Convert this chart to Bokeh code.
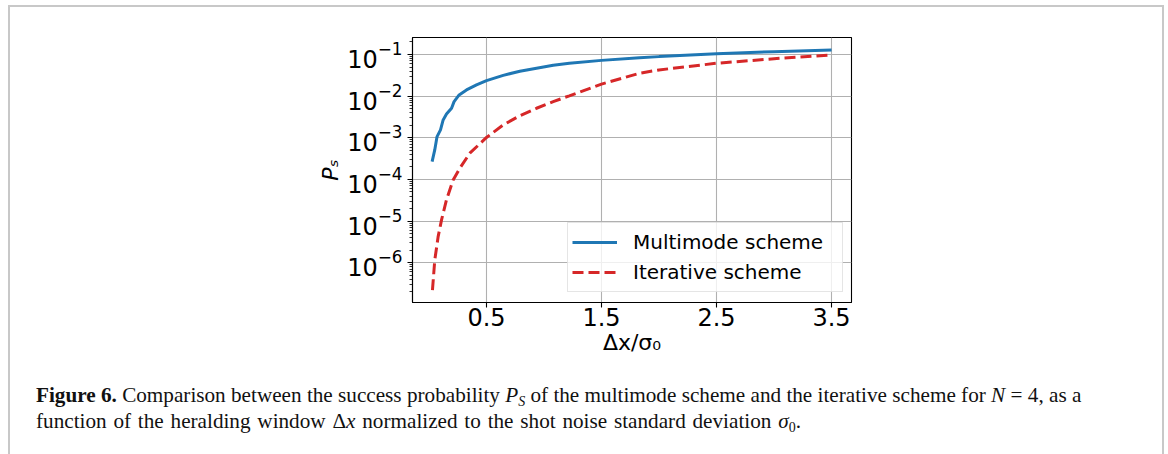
from bokeh.plotting import figure
from bokeh.models import Range1d, FixedTicker, Legend, LegendItem, Div
from bokeh.layouts import column
from bokeh.embed import file_html
from bokeh.resources import INLINE

# ---- data ----
dx_multi = [0.027, 0.05, 0.07, 0.10, 0.123, 0.152, 0.196, 0.218, 0.262, 0.326, 0.413,
            0.5, 0.645, 0.79, 0.935, 1.08, 1.22, 1.5, 1.83, 2.0, 2.5, 3.0, 3.5]
ps_multi = [2.69e-4, 5.13e-4, 1.07e-3, 1.55e-3, 2.69e-3, 3.72e-3, 5.13e-3, 7.41e-3,
            1.07e-2, 1.41e-2, 1.86e-2, 2.37e-2, 3.16e-2, 3.98e-2, 4.68e-2, 5.50e-2,
            6.17e-2, 7.24e-2, 8.32e-2, 8.91e-2, 0.105, 0.117, 0.129]

dx_iter = [0.03, 0.05, 0.079, 0.109, 0.152, 0.21, 0.268, 0.355, 0.5, 0.645, 0.79, 0.935,
           1.08, 1.22, 1.5, 1.83, 2.0, 2.5, 3.0, 3.5]
ps_iter = [2.19e-7, 1.15e-6, 4.17e-6, 1.07e-5, 3.24e-5, 9.77e-5, 1.86e-4, 4.27e-4,
           1.02e-3, 2.04e-3, 3.39e-3, 5.13e-3, 7.41e-3, 1.02e-2, 1.95e-2, 3.55e-2,
           4.27e-2, 6.17e-2, 7.94e-2, 9.77e-2]

x_ticks = [0.5, 1.5, 2.5, 3.5]
y_ticks = [1e-6, 1e-5, 1e-4, 1e-3, 1e-2, 1e-1]
legend_labels = ["Multimode scheme", "Iterative scheme"]
x_label = "Δx/σ₀"
y_label = "Pₛ"

FONT = "DejaVu Sans"

y_minor = [k * 10.0 ** e for e in range(-7, 0) for k in range(2, 10)]

FIG_H = 372
p = figure(width=1168, height=FIG_H, y_axis_type="log",
           x_range=Range1d(-0.1435, 3.6735), y_range=Range1d(1.11e-7, 0.2565),
           output_backend="svg", toolbar_location=None,
           min_border_left=412, min_border_right=317, min_border_top=37,
           min_border_bottom=FIG_H - 302)
p.background_fill_color = "white"
p.border_fill_color = "white"
p.outline_line_color = "black"
p.outline_line_width = 1.1
p.outline_line_alpha = 1.0

r1 = p.line(dx_multi, ps_multi, line_color="#1f77b4", line_width=3)
r2 = p.line(dx_iter, ps_iter, line_color="#d62728", line_width=3, line_dash="11 5")

p.xaxis.ticker = FixedTicker(ticks=x_ticks)
p.yaxis.ticker = FixedTicker(ticks=y_ticks, minor_ticks=y_minor)
p.xgrid.ticker = FixedTicker(ticks=x_ticks)
for g in (p.xgrid, p.ygrid):
    g.grid_line_color = "#b0b0b0"
    g.grid_line_width = 1.1
    g.grid_line_alpha = 1.0

for ax in (p.xaxis, p.yaxis):
    ax.axis_line_color = "black"
    ax.axis_line_width = 1.1
    ax.major_tick_line_color = "black"
    ax.major_tick_line_width = 1.1
    ax.minor_tick_line_color = "black"
    ax.minor_tick_line_width = 0.8
    ax.major_tick_in = 0
    ax.major_tick_out = 5
    ax.minor_tick_in = 0
    ax.minor_tick_out = 3
    ax.major_label_text_font = FONT
    ax.major_label_text_font_size = "24px"
    ax.major_label_text_color = "black"
    ax.major_label_standoff = 5
    ax.axis_label_text_font = FONT
    ax.axis_label_text_font_size = "22px"
    ax.axis_label_text_color = "black"
    ax.axis_label_text_font_style = "normal"

p.xaxis.minor_tick_out = 0
p.xaxis.major_label_standoff = 0
p.xaxis.axis_label = x_label
p.xaxis.axis_label_standoff = 1
p.yaxis.axis_label = y_label
p.yaxis.axis_label_text_font_style = "italic"
p.yaxis.axis_label_standoff = 1

legend = Legend(items=[LegendItem(label=legend_labels[0], renderers=[r1]),
                       LegendItem(label=legend_labels[1], renderers=[r2])],
                location=(155, 10))
legend.label_text_font = FONT
legend.label_text_font_size = "20px"
legend.label_text_color = "black"
legend.glyph_width = 45
legend.glyph_height = 30
legend.label_height = 30
legend.label_width = 205
legend.label_standoff = 16
legend.padding = 4
legend.spacing = 0
legend.margin = 0
legend.border_line_color = "#cccccc"
legend.border_line_width = 1
legend.background_fill_color = "white"
legend.background_fill_alpha = 0.8
p.add_layout(legend)

CAP_H = 454 - FIG_H
border = "#c8c8c8"
sub = 'style="vertical-align:-4px;font-size:14px;line-height:14px;"'
caption_html = (
    f'<div style="position:relative;width:1168px;height:{CAP_H}px;">'
    f'<div style="position:absolute;left:8px;top:{5 - FIG_H}px;width:2px;height:{454 - 5}px;background:{border};"></div>'
    f'<div style="position:absolute;left:1162px;top:{5 - FIG_H}px;width:2px;height:{454 - 5}px;background:{border};"></div>'
    f'<div style="position:absolute;left:8px;top:{5 - FIG_H}px;width:1156px;height:2px;background:{border};"></div>'
    f'<div style="position:absolute;left:36px;top:{383 - FIG_H}px;font-family:\'Liberation Serif\',serif;'
    'font-size:21.2px;line-height:24px;white-space:nowrap;color:#111;">'
    f'<b>Figure 6.</b> Comparison between the success probability <i>P</i><span {sub}><i>S</i></span> '
    'of the multimode scheme and the iterative scheme for <i>N</i> = 4, as a<br>'
    '<span style="word-spacing:1.5px;">function of the heralding window Δ<i>x</i> normalized to the shot noise standard deviation '
    f'<i>σ</i><span {sub}>0</span>.</span>'
    '</div></div>'
)
cap = Div(text=caption_html, width=1168, height=CAP_H, margin=0,
          styles={"overflow": "visible"})

layout = column(p, cap, spacing=0)
open("out.html", "w").write(file_html(layout, INLINE))
